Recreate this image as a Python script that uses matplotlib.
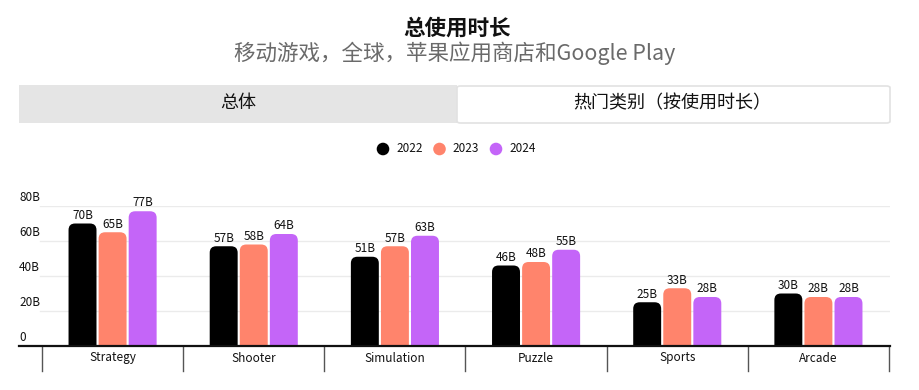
import numpy as np
import matplotlib
matplotlib.use("Agg")
import matplotlib.pyplot as plt
from matplotlib.patches import FancyBboxPatch, Rectangle, Ellipse
import matplotlib.transforms as mtransforms

plt.rcParams['font.family'] = ['Noto Sans CJK SC', 'DejaVu Sans']

# data (billions of hours)
categories = ['Strategy', 'Shooter', 'Simulation', 'Puzzle', 'Sports', 'Arcade']
years = ['2022', '2023', '2024']
v2022 = [70, 57, 51, 46, 25, 30]
v2023 = [65, 58, 57, 48, 33, 28]
v2024 = [77, 64, 63, 55, 28, 28]
yticks = [0, 20, 40, 60, 80]
ytick_labels = ['0', '20B', '40B', '60B', '80B']

colors = ['#000000', '#FF846C', '#C465F8']
W, H = 919, 390

fig = plt.figure(figsize=(W / 100, H / 100), dpi=100)

def fx(px):
    return px / W

def fy(py):
    return 1 - py / H

# titles
fig.text(fx(457), fy(28), '总使用时长', ha='center', va='center', fontsize=15.5,
         fontweight='bold', color='#111111')
fig.text(fx(455), fy(53), '移动游戏，全球，苹果应用商店和Google Play', ha='center',
         va='center', fontsize=15.5, color='#6a6a6a', fontweight='light')

# tabs
fig.patches.append(Rectangle((fx(19), fy(123)), fx(457) - fx(19), fy(85) - fy(123),
                             transform=fig.transFigure, facecolor='#e5e5e5',
                             edgecolor='none'))
fig.patches.append(FancyBboxPatch((fx(457), fy(123)), fx(890) - fx(457), fy(86) - fy(123),
                                  boxstyle='round,pad=0,rounding_size=0.004',
                                  transform=fig.transFigure, facecolor='white',
                                  edgecolor='#e2e2e2', linewidth=1.2))
fig.text(fx(238), fy(103), '总体', ha='center', va='center', fontsize=13, color='#111111')
fig.text(fx(672), fy(103), '热门类别（按使用时长）', ha='center', va='center',
         fontsize=13, color='#111111')

# legend
for i, (yr, c) in enumerate(zip(years, colors)):
    cx = 383 + i * 56.5
    fig.patches.append(Ellipse((fx(cx), fy(149)), 12.6 / W, 12.6 / H,
                               transform=fig.transFigure, facecolor=c, edgecolor='none'))
    fig.text(fx(cx + 13), fy(149), yr, ha='left', va='center', fontsize=8.5,
             color='#111111', fontweight='medium')

# axes
ax_left, ax_right, ax_top, ax_bottom = 19, 890, 206, 346
ax = fig.add_axes([fx(ax_left), fy(ax_bottom), fx(ax_right) - fx(ax_left),
                   (ax_bottom - ax_top) / H])
cat_px = (889 - 42) / len(categories)
x0 = -0.5 - (42 - ax_left) / cat_px
x1 = len(categories) - 0.5 + (ax_right - 889) / cat_px
ax.set_xlim(x0, x1)
ax.set_ylim(0, 80)
ax.axis('off')

# gridlines
for t in yticks[1:]:
    ax.plot([x0 + 0.15, x1], [t, t], color='#ebebeb', linewidth=1, zorder=0)
for t, lab in zip(yticks, ytick_labels):
    ax.text(x0, t + 1.2, lab, ha='left', va='bottom', fontsize=8.5, color='#111111')

x = np.arange(len(categories))
bw = 0.198
step = 0.213
px_per_x = cat_px
px_per_y = (ax_bottom - ax_top) / 80
r_x = 6.5 / px_per_x
aspect = px_per_x / px_per_y

for i, (vals, c) in enumerate(zip([v2022, v2023, v2024], colors)):
    bars = ax.bar(x + (i - 1) * step, vals, bw, color=c)
    for b, v in zip(bars, vals):
        b.set_visible(False)
        bx, bh = b.get_x(), b.get_height()
        ax.add_patch(FancyBboxPatch((bx, -10), bw, bh + 10,
                                    boxstyle='round,pad=0,rounding_size=%f' % r_x,
                                    mutation_aspect=aspect, facecolor=c,
                                    edgecolor='none', zorder=2))
        ax.text(bx + bw / 2, bh + 1.0, '%dB' % v, ha='center', va='bottom',
                fontsize=8.5, color='#111111', clip_on=False)

# baseline and category separators
ax.plot([x0, x1], [0, 0], color='#111111', linewidth=1.6, clip_on=False, zorder=3)
trans = mtransforms.blended_transform_factory(ax.transData, ax.transAxes)
sep_len = 25 / (ax_bottom - ax_top)
for s in np.arange(len(categories) + 1) - 0.5:
    ax.plot([s, s], [0, -sep_len], color='#555555', linewidth=1, transform=trans,
            clip_on=False)
for xi, cat in zip(x, categories):
    ax.text(xi, -12 / (ax_bottom - ax_top), cat, ha='center', va='center',
            fontsize=8.5, color='#111111', transform=trans)

fig.savefig('out.png', dpi=100)
